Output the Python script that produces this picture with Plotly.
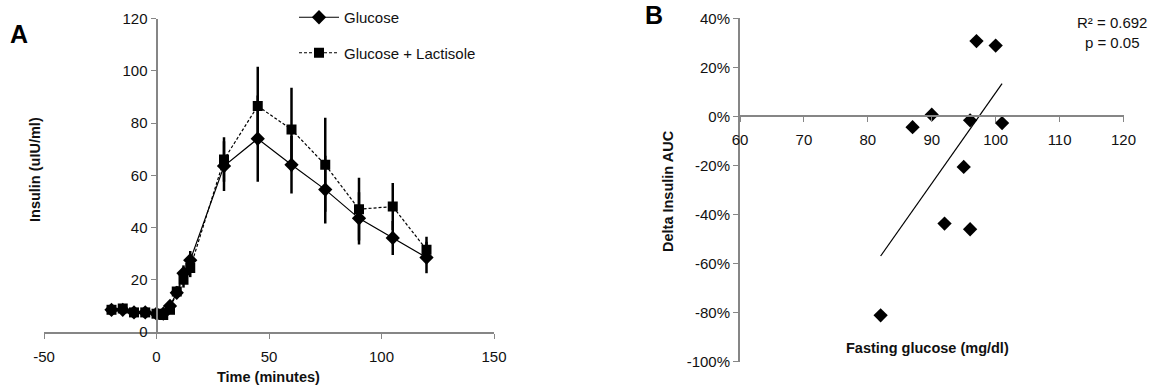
import numpy as np
import plotly.graph_objects as go

# ---------- Panel A data ----------
time_min = [-20, -15, -10, -5, 0, 3, 6, 9, 12, 15, 30, 45, 60, 75, 90, 105, 120]
glucose = [8.5, 8.5, 7.5, 7.5, 7, 7, 10, 15, 22.5, 27.5, 63.5, 74, 64, 54.5, 43.5, 36, 28.5]
glucose_err = [1, 1, 1, 1, 1, 1, 1.5, 2, 3, 3.5, 9.5, 16.5, 11, 13, 10, 6.5, 6]
lactisole = [8.5, 9, 7.5, 7.5, 7, 6.5, 8.5, 15.5, 20, 24.5, 66, 86.5, 77.5, 64, 47, 48, 31.5]
lactisole_err = [1, 1, 1, 1, 1, 1, 1.5, 2, 3, 3.5, 8.5, 15, 16, 18, 12, 9, 5]
xa_tickvals = [-50, 0, 50, 100, 150]
xa_ticktext = ["-50", "0", "50", "100", "150"]

# ---------- Panel B data ----------
fasting_glucose = [97, 100, 90, 87, 96, 101, 95, 92, 96, 82]
delta_auc = [30.7, 28.9, 0.7, -4.4, -1.6, -2.7, -20.6, -43.7, -46.0, -81.1]
yb_tickvals = [-100, -80, -60, -40, -20, 0, 20, 40]
yb_ticktext = ["-100%", "-80%", "-60%", "-40%", "-20%", "0%", "20%", "40%"]

W, H = 1152, 385
def px(x):
    return x / W
def py(y):
    return 1 - y / H

AXIS_GRAY = "#868686"
TXT = "#111111"
FONT = "Liberation Sans, Arial, sans-serif"
FS = 15

fig = go.Figure()

fig.add_trace(go.Scatter(
    x=time_min, y=glucose, name="Glucose", mode="lines+markers",
    line=dict(color="black", width=1.2),
    marker=dict(symbol="diamond", size=11, color="black"),
    error_y=dict(type="data", array=glucose_err, color="black", thickness=2.5, width=0),
    xaxis="x", yaxis="y", legendgroup="g1",
))
fig.add_trace(go.Scatter(
    x=time_min, y=lactisole, name="Glucose + Lactisole", mode="lines+markers",
    line=dict(color="black", width=1.2, dash="3px,2px"),
    marker=dict(symbol="square", size=10, color="black"),
    error_y=dict(type="data", array=lactisole_err, color="black", thickness=2.5, width=0),
    xaxis="x", yaxis="y", legendgroup="g2",
))

# Panel B scatter
fig.add_trace(go.Scatter(
    x=fasting_glucose, y=delta_auc, mode="markers", showlegend=False,
    marker=dict(symbol="diamond", size=11, color="black"),
    xaxis="x2", yaxis="y2",
))
# Linear trendline from the data
slope, intercept = np.polyfit(fasting_glucose, delta_auc, 1)
xl = np.array([min(fasting_glucose), max(fasting_glucose)])
fig.add_trace(go.Scatter(
    x=xl, y=slope * xl + intercept, mode="lines", showlegend=False,
    line=dict(color="black", width=1.2), xaxis="x2", yaxis="y2",
))

tickfont = dict(family=FONT, size=FS, color=TXT)

# domains (pixel based)
xa_dom = [px(44), px(494)]
ya_dom = [py(332), py(18.5)]
xb_dom = [px(740), px(1123.5)]
yb_dom = [py(361.7), py(18.3)]
yb_zero = yb_dom[0] + (yb_dom[1] - yb_dom[0]) * 100 / 140
xa_zero = xa_dom[0] + (xa_dom[1] - xa_dom[0]) * 50 / 200

common = dict(showline=True, linecolor=AXIS_GRAY, linewidth=2,
              ticks="outside", ticklen=5, tickcolor=AXIS_GRAY, tickwidth=1,
              showgrid=False, zeroline=False, tickfont=tickfont, automargin=False)

fig.update_layout(
    width=W, height=H,
    margin=dict(l=0, r=0, t=0, b=0, pad=0, autoexpand=False),
    paper_bgcolor="white", plot_bgcolor="white",
    font=dict(family=FONT, size=FS, color=TXT),
    xaxis=dict(domain=xa_dom, range=[-50, 150], tickmode="array",
               tickvals=xa_tickvals, ticktext=xa_ticktext,
               anchor="y", ticklabelstandoff=5, **common),
    yaxis=dict(domain=ya_dom, range=[0, 120], dtick=20,
               anchor="free", position=xa_zero, **common),
    xaxis2=dict(domain=xb_dom, range=[60, 120], dtick=10,
                anchor="free", position=yb_zero, ticklabelstandoff=5, **common),
    yaxis2=dict(domain=yb_dom, range=[-100, 40], tickmode="array",
                tickvals=yb_tickvals, ticktext=yb_ticktext,
                anchor="x2", **common),
    showlegend=True,
    legend=dict(x=px(294), y=py(1), xanchor="left", yanchor="top",
                bgcolor="rgba(0,0,0,0)", borderwidth=0, tracegroupgap=13,
                itemwidth=40,
                font=dict(family=FONT, size=FS, color=TXT)),
)

ann = [
    dict(text="<b>A</b>", x=px(19), y=py(34), font=dict(size=25, color="black")),
    dict(text="<b>B</b>", x=px(654), y=py(15), font=dict(size=25, color="black")),
    dict(text="<b>Insulin (uIU/ml)</b>", x=px(35), y=py(170), textangle=-90,
         font=dict(size=14.5, color=TXT)),
    dict(text="<b>Time (minutes)</b>", x=px(268), y=py(377), font=dict(size=14.5, color=TXT)),
    dict(text="<b>Delta Insulin AUC</b>", x=px(668), y=py(191), textangle=-90,
         font=dict(size=14.5, color=TXT)),
    dict(text="<b>Fasting glucose (mg/dl)</b>", x=px(927), y=py(348), font=dict(size=14.5, color=TXT)),
    dict(text="R² = 0.692<br>p = 0.05", x=px(1112), y=py(32), align="center",
         font=dict(size=FS, color=TXT)),
]
for a in ann:
    a.update(xref="paper", yref="paper", showarrow=False, xanchor="center", yanchor="middle")
    fig.add_annotation(**a)

fig.write_html("out.html")
